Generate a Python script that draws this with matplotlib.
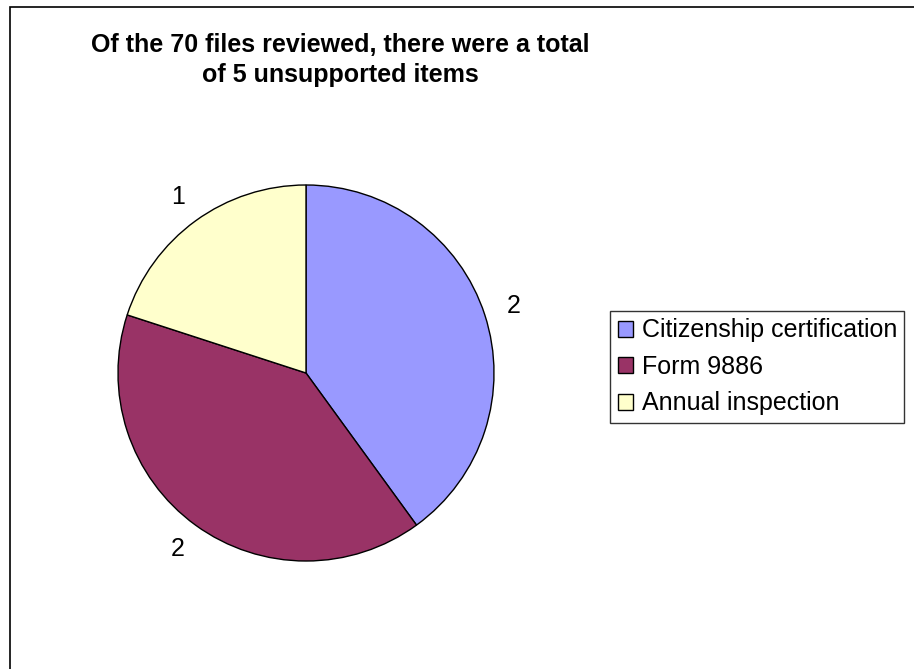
import matplotlib

matplotlib.use("Agg")
import matplotlib.pyplot as plt
from matplotlib.patches import Rectangle

categories = ["Citizenship certification", "Form 9886", "Annual inspection"]
counts = [2, 2, 1]
colors = ["#9999FF", "#993366", "#FFFFCC"]
title = "Of the 70 files reviewed, there were a total\nof 5 unsupported items"

plt.rcParams["font.family"] = ["Liberation Sans", "DejaVu Sans"]

W, H = 914, 669
fig = plt.figure(figsize=(W / 100, H / 100), dpi=100)

# outer chart frame (right and bottom edges fall outside the image)
fig.patches.append(Rectangle((9.5 / W, -0.1), 1.2, 1 - 6.5 / H + 0.1, transform=fig.transFigure,
                             fill=False, edgecolor="black", linewidth=1.2))

cx, cy, r = 306, 373, 188
ax = fig.add_axes([(cx - r) / W, (H - cy - r) / H, 2 * r / W, 2 * r / H])
wedges, texts = ax.pie(counts, colors=colors, startangle=90, counterclock=False,
                       labels=[str(v) for v in counts], labeldistance=1.16,
                       wedgeprops=dict(edgecolor="black", linewidth=1))
for t in texts:
    t.set_fontsize(18)
    t.set_ha("center")
    t.set_va("center")
ax.set_xlim(-1, 1)
ax.set_ylim(-1, 1)
ax.set_aspect("equal")
ax.axis("off")

fig.text(340 / W, 1 - 60 / H, title, ha="center", va="center", fontsize=18,
         fontweight="bold", linespacing=1.35)

leg = fig.legend(wedges, categories, loc="upper left", bbox_to_anchor=(610 / W, 1 - 311 / H),
                 fontsize=18, frameon=True, fancybox=False, edgecolor="black",
                 handlelength=0.6, handleheight=0.6, handletextpad=0.36,
                 labelspacing=0.5, borderpad=0.3, borderaxespad=0)
leg.get_frame().set_linewidth(1)

fig.savefig("out.png", dpi=100)
